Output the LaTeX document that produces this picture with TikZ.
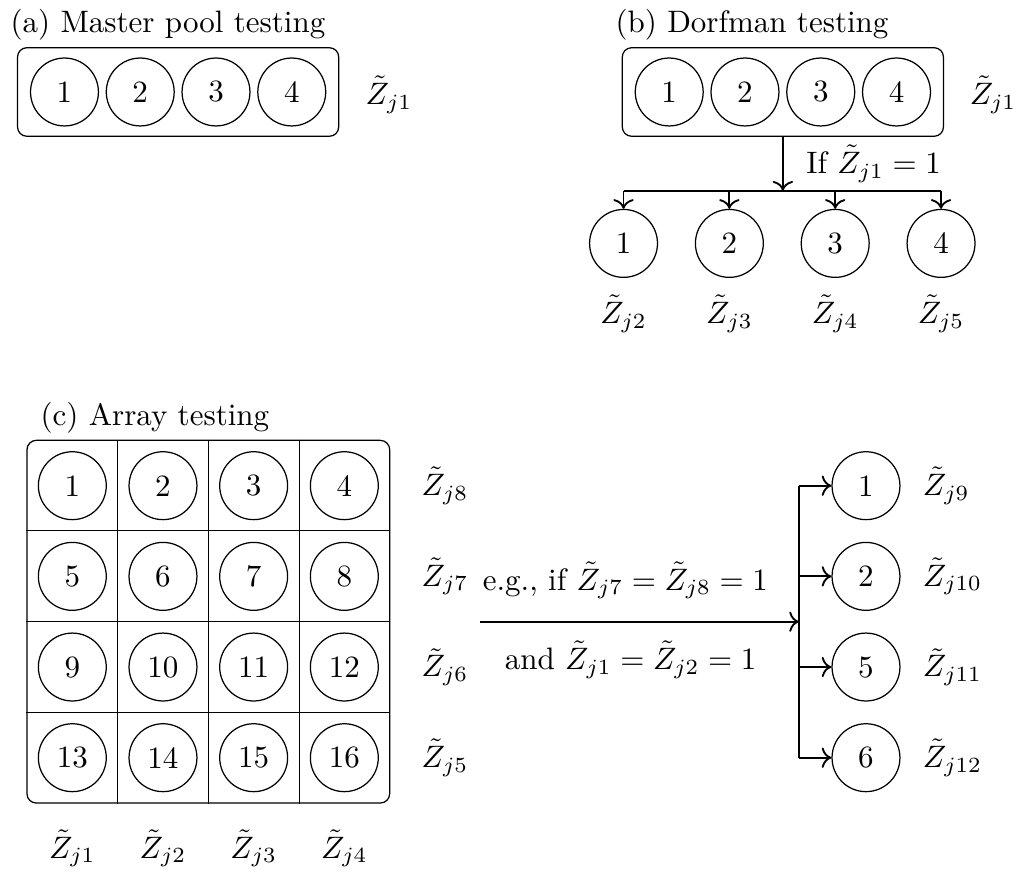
\documentclass[tikz,border=0pt]{standalone}
\usepackage{amsmath,amssymb}
\usepackage{tikz}
\usetikzlibrary{arrows.meta,positioning,fit,calc}

\begin{document}
\begin{tikzpicture}[
  ball/.style={draw, circle, thin, minimum size=0.77cm, inner sep=0pt},
  pool/.style={draw, thin, rounded corners=3pt, inner xsep=0.14cm, inner ysep=0.11cm},
  arr/.style={-{To[length=1.1mm]}, semithick},
  paneltitle/.style={anchor=base west, inner sep=0pt},
  node distance=0.075cm,
]
\useasboundingbox (0,0) rectangle (11.52,-9.887);

% ===== (a) Master pool testing =====
\node[paneltitle] (ta) at (0.113,-0.363) {(a) Master pool testing};
\node[ball] (a1) at (0.731,-1.043) {1};
\node[ball, right=of a1] (a2) {2};
\node[ball, right=of a2] (a3) {3};
\node[ball, right=of a3] (a4) {4};
\node[pool, fit=(a1)(a4)] (poola) {};
\node (za) at (4.41,-1.077) {$\tilde{Z}_{j1}$};

% ===== (b) Dorfman testing =====
\node[paneltitle] (tb) at (6.973,-0.366) {(b) Dorfman testing};
\node[ball] (b1) at (7.588,-1.043) {1};
\node[ball, right=of b1] (b2) {2};
\node[ball, right=of b2] (b3) {3};
\node[ball, right=of b3] (b4) {4};
\node[pool, fit=(b1)(b4)] (poolb) {};
\node (zb) at (11.26,-1.077) {$\tilde{Z}_{j1}$};

\node[ball] (d1) at (7.07,-2.76) {1};
\node[ball] (d2) at (8.27,-2.76) {2};
\node[ball] (d3) at (9.47,-2.76) {3};
\node[ball] (d4) at (10.67,-2.76) {4};
\node (zd1) at (d1 |- 0,-3.56) {$\tilde{Z}_{j2}$};
\node (zd2) at (d2 |- 0,-3.56) {$\tilde{Z}_{j3}$};
\node (zd3) at (d3 |- 0,-3.56) {$\tilde{Z}_{j4}$};
\node (zd4) at (d4 |- 0,-3.56) {$\tilde{Z}_{j5}$};

\coordinate (split) at (poolb.south |- 0,-2.162);
\draw[arr] (poolb.south) -- (split)
  node[midway, right=0.14cm] {If $\tilde{Z}_{j1}=1$};
\draw[semithick] (d1 |- split) -- (d4 |- split);
\draw[arr] (d1 |- split) -- (d1);
\draw[arr] (d2 |- split) -- (d2);
\draw[arr] (d3 |- split) -- (d3);
\draw[arr] (d4 |- split) -- (d4);

% ===== (c) Array testing =====
\node[paneltitle] (tc) at (0.454,-4.819) {(c) Array testing};
\node[ball] (g1) at (0.82,-5.507) {1};
\node[ball, right=0.244cm of g1] (g2) {2};
\node[ball, right=0.244cm of g2] (g3) {3};
\node[ball, right=0.244cm of g3] (g4) {4};
\node[ball, below=0.244cm of g1] (g5) {5};
\node[ball, right=0.244cm of g5] (g6) {6};
\node[ball, right=0.244cm of g6] (g7) {7};
\node[ball, right=0.244cm of g7] (g8) {8};
\node[ball, below=0.244cm of g5] (g9) {9};
\node[ball, right=0.244cm of g9] (g10) {10};
\node[ball, right=0.244cm of g10] (g11) {11};
\node[ball, right=0.244cm of g11] (g12) {12};
\node[ball, below=0.244cm of g9] (g13) {13};
\node[ball, right=0.244cm of g13] (g14) {14};
\node[ball, right=0.244cm of g14] (g15) {15};
\node[ball, right=0.244cm of g15] (g16) {16};
\node[pool, inner sep=0.122cm, fit=(g1)(g16)] (grid) {};

\draw[thin] ($(grid.north west)!0.25!(grid.north east)$) -- ($(grid.south west)!0.25!(grid.south east)$);
\draw[thin] ($(grid.north west)!0.5!(grid.north east)$) -- ($(grid.south west)!0.5!(grid.south east)$);
\draw[thin] ($(grid.north west)!0.75!(grid.north east)$) -- ($(grid.south west)!0.75!(grid.south east)$);
\draw[thin] ($(grid.north west)!0.25!(grid.south west)$) -- ($(grid.north east)!0.25!(grid.south east)$);
\draw[thin] ($(grid.north west)!0.5!(grid.south west)$) -- ($(grid.north east)!0.5!(grid.south east)$);
\draw[thin] ($(grid.north west)!0.75!(grid.south west)$) -- ($(grid.north east)!0.75!(grid.south east)$);

\node[right=0.36cm of g4] (zr1) {$\tilde{Z}_{j8}$};
\node[right=0.36cm of g8] (zr2) {$\tilde{Z}_{j7}$};
\node[right=0.36cm of g12] (zr3) {$\tilde{Z}_{j6}$};
\node[right=0.36cm of g16] (zr4) {$\tilde{Z}_{j5}$};
\node (zc1) at (g13 |- 0,-9.62) {$\tilde{Z}_{j1}$};
\node (zc2) at (g14 |- 0,-9.62) {$\tilde{Z}_{j2}$};
\node (zc3) at (g15 |- 0,-9.62) {$\tilde{Z}_{j3}$};
\node (zc4) at (g16 |- 0,-9.62) {$\tilde{Z}_{j4}$};

% ===== second stage of the array =====
\node[ball] (e1) at (g4 -| 9.819,0) {1};
\node[ball] (e2) at (g8 -| 9.819,0) {2};
\node[ball] (e3) at (g12 -| 9.819,0) {5};
\node[ball] (e4) at (g16 -| 9.819,0) {6};
\node[right=0.13cm of e1] (ze1) {$\tilde{Z}_{j9}$};
\node[right=0.13cm of e2] (ze2) {$\tilde{Z}_{j10}$};
\node[right=0.13cm of e3] (ze3) {$\tilde{Z}_{j11}$};
\node[right=0.13cm of e4] (ze4) {$\tilde{Z}_{j12}$};

\coordinate (src) at (grid.east -| 5.442,0);
\coordinate (join) at (grid.east -| 9.059,0);
\draw[arr] (src) -- (join)
  node[midway, above=0.13cm, xshift=-0.16cm] {e.g., if $\tilde{Z}_{j7}=\tilde{Z}_{j8}=1$}
  node[midway, below=0.09cm, xshift=-0.1cm] {and $\tilde{Z}_{j1}=\tilde{Z}_{j2}=1$};
\draw[semithick] (join |- e1) -- (join |- e4);
\draw[arr] (join |- e1) -- (e1);
\draw[arr] (join |- e2) -- (e2);
\draw[arr] (join |- e3) -- (e3);
\draw[arr] (join |- e4) -- (e4);

\end{tikzpicture}
\end{document}
